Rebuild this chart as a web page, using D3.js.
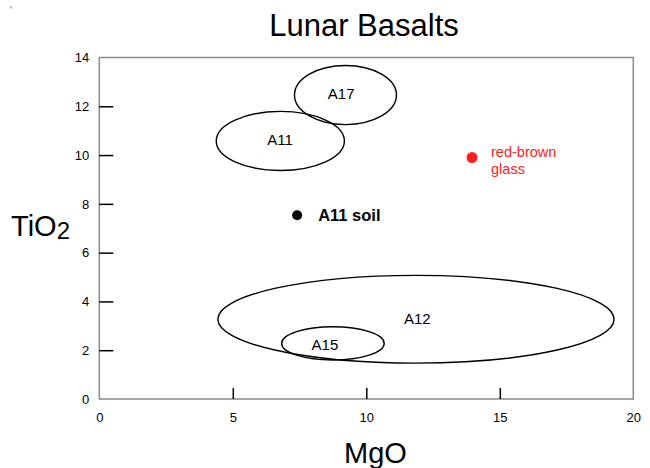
<!DOCTYPE html>
<meta charset="utf-8">
<head>
<style>
  body { margin: 0; background: #fff; }
  text { font-family: "Liberation Sans", Arial, sans-serif; }
</style>
</head>
<script src="https://cdn.jsdelivr.net/npm/d3@7"></script>
<body>
<div id="chart"></div>
</body>
<script>
  // ellipse fields (MgO / TiO2 wt%)
  var fieldNames = ["A17", "A11", "A12", "A15"];
  var fieldMgO   = [9.22, 6.78, 11.86, 8.75];
  var fieldTiO2  = [12.46, 10.58, 3.27, 2.28];
  var fieldRadMgO  = [1.91, 2.40, 7.42, 1.92];
  var fieldRadTiO2 = [1.21, 1.21, 1.80, 0.68];
  // label positions inside the fields
  var labelMgO  = [9.06, 6.77, 11.91, 8.45];
  var labelTiO2 = [12.51, 10.61, 3.29, 2.21];

  // single samples
  var pointNames = ["A11 soil", "red-brown glass"];
  var pointMgO   = [7.41, 13.96];
  var pointTiO2  = [7.53, 9.90];

  var xTicks = [0, 5, 10, 15, 20];
  var yTicks = [0, 2, 4, 6, 8, 10, 12, 14];

  var W = 650, H = 468;
  var svg = d3.select("#chart").append("svg")
      .attr("width", W).attr("height", H);

  var x = d3.scaleLinear().domain([0, 20]).range([99.3, 633.3]);
  var y = d3.scaleLinear().domain([0, 14]).range([399, 57.5]);

  // frame
  svg.append("rect")
    .attr("x", x(0)).attr("y", y(14))
    .attr("width", x(20) - x(0)).attr("height", y(0) - y(14))
    .attr("fill", "none").attr("stroke", "#8a8a8a").attr("stroke-width", 1.5);

  // y axis, ticks pointing in
  var yAxis = svg.append("g")
    .attr("transform", "translate(" + x(0) + ",0)")
    .call(d3.axisLeft(y).tickValues(yTicks).tickSize(-14).tickPadding(10));
  yAxis.select(".domain").remove();
  yAxis.selectAll(".tick line")
    .attr("stroke", "#000").attr("stroke-width", 1.5)
    .filter(function(d) { return d == 0 || d == 14; }).remove();
  yAxis.selectAll(".tick text")
    .style("font-size", "13px").attr("fill", "#000");

  // x axis, ticks pointing up
  var xAxis = svg.append("g")
    .attr("transform", "translate(0," + y(0) + ")")
    .call(d3.axisBottom(x).tickValues(xTicks).tickSize(-11).tickPadding(14));
  xAxis.select(".domain").remove();
  xAxis.selectAll(".tick line")
    .attr("stroke", "#000").attr("stroke-width", 1.5)
    .filter(function(d) { return d == 0 || d == 20; }).remove();
  xAxis.selectAll(".tick text")
    .style("font-size", "13px").attr("fill", "#000");

  // fields
  svg.append("g").selectAll("ellipse")
    .data(fieldNames)
    .enter().append("ellipse")
      .attr("cx", function(d, i) { return x(fieldMgO[i]); })
      .attr("cy", function(d, i) { return y(fieldTiO2[i]); })
      .attr("rx", function(d, i) { return x(fieldMgO[i] + fieldRadMgO[i]) - x(fieldMgO[i]); })
      .attr("ry", function(d, i) { return y(fieldTiO2[i]) - y(fieldTiO2[i] + fieldRadTiO2[i]); })
      .attr("fill", "none").attr("stroke", "#000").attr("stroke-width", 1.4);

  svg.append("g").selectAll("text")
    .data(fieldNames)
    .enter().append("text")
      .attr("x", function(d, i) { return x(labelMgO[i]); })
      .attr("y", function(d, i) { return y(labelTiO2[i]); })
      .attr("dy", "0.35em")
      .attr("text-anchor", "middle")
      .style("font-size", "15px")
      .text(function(d) { return d; });

  // sample points
  var pointColors = ["#000", "#ff2020"];
  var pointR = [5, 5.5];
  svg.append("g").selectAll("circle")
    .data(pointNames)
    .enter().append("circle")
      .attr("cx", function(d, i) { return x(pointMgO[i]); })
      .attr("cy", function(d, i) { return y(pointTiO2[i]); })
      .attr("r", function(d, i) { return pointR[i]; })
      .attr("fill", function(d, i) { return pointColors[i]; });

  svg.append("text")
    .attr("x", x(pointMgO[0]) + 21)
    .attr("y", y(pointTiO2[0]))
    .attr("dy", "0.35em")
    .style("font-size", "16.5px").style("font-weight", "bold")
    .text(pointNames[0]);

  var glass = svg.append("text")
    .attr("x", x(pointMgO[1]) + 19)
    .attr("y", y(pointTiO2[1]) - 1)
    .attr("fill", "#ff2020")
    .style("font-size", "14.5px");
  glass.append("tspan").text("red-brown");
  glass.append("tspan").attr("x", x(pointMgO[1]) + 19).attr("dy", 17).text("glass");

  // titles
  svg.append("text")
    .attr("x", 364).attr("y", 36)
    .attr("text-anchor", "middle")
    .style("font-size", "31px")
    .text("Lunar Basalts");

  svg.append("text")
    .attr("x", 375.5).attr("y", 463)
    .attr("text-anchor", "middle")
    .style("font-size", "29px")
    .text("MgO");

  var ti = svg.append("text")
    .attr("x", 11).attr("y", 236)
    .style("font-size", "29px")
    .text("TiO");
  ti.append("tspan").attr("dy", 3).style("font-size", "24px").text("2");

  // small stray mark in the corner
  svg.append("rect").attr("x", 10).attr("y", 6.5).attr("width", 1.5).attr("height", 2).attr("fill", "#999");
</script>
